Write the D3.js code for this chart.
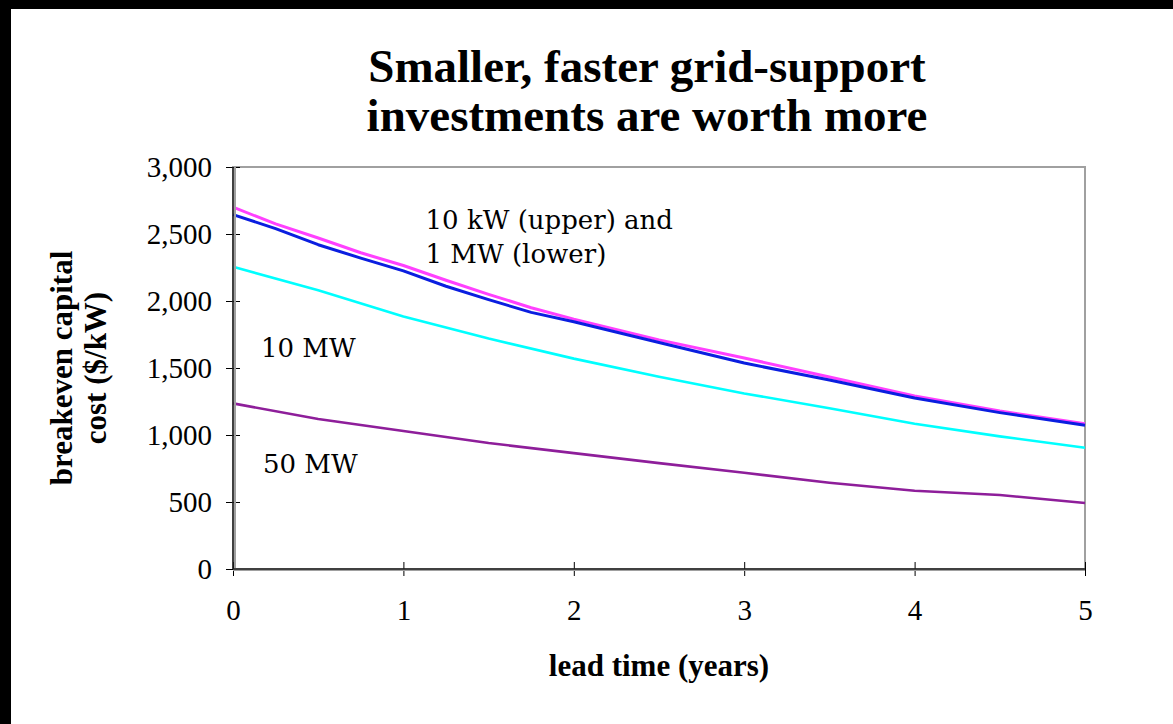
<!DOCTYPE html>
<html>
<head>
<meta charset="utf-8">
<script src="https://cdn.jsdelivr.net/npm/d3@7"></script>
<style>
  body { margin: 0; background: #fff; }
  svg { display: block; }
  text { font-family: "Palatino Linotype", "Book Antiqua", Palatino, "Liberation Serif", serif; fill: #000; }
  .note { font-family: "Palatino Linotype", "Book Antiqua", Palatino, "DejaVu Serif", serif; }
</style>
</head>
<body>
<svg id="chart"></svg>
<script>
// lead time in years, values in $/kW
const leadTime = [0, 0.25, 0.5, 0.75, 1, 1.25, 1.5, 1.75, 2, 2.5, 3, 3.5, 4, 4.5, 5];
const kw10 = [2700, 2575, 2470, 2360, 2265, 2155, 2050, 1950, 1865, 1710, 1575, 1433, 1291, 1179, 1085];
const mw1 = [2645, 2540, 2420, 2320, 2225, 2110, 2010, 1915, 1845, 1690, 1537, 1410, 1276, 1167, 1072];
const leadTimeHalf = [0, 0.5, 1, 1.5, 2, 2.5, 3, 3.5, 4, 4.5, 5];
const mw10 = [2255, 2080, 1885, 1720, 1570, 1435, 1310, 1200, 1084, 990, 905];
const mw50 = [1236, 1120, 1030, 940, 865, 790, 718, 644, 584, 552, 492];
const yTicks = [0, 500, 1000, 1500, 2000, 2500, 3000];
const xTicks = [0, 1, 2, 3, 4, 5];

const W = 1173, H = 724;
const svg = d3.select('#chart').attr('width', W).attr('height', H);

// black frame round the picture (top and left)
svg.append('rect').attr('width', W).attr('height', H).attr('fill', '#000');
svg.append('rect').attr('x', 11).attr('y', 9).attr('width', W - 11).attr('height', H - 9).attr('fill', '#fff');

const x = d3.scaleLinear().domain([0, 5]).range([233, 1085]);
const y = d3.scaleLinear().domain([0, 3000]).range([569, 167]);

// plot frame (grey top and right)
svg.append('rect')
  .attr('x', x(0)).attr('y', y(3000))
  .attr('width', x(5) - x(0)).attr('height', y(0) - y(3000))
  .attr('fill', 'none').attr('stroke', '#a0a0a0').attr('stroke-width', 2);

// lines
const series = [
  { xs: leadTimeHalf, ys: mw50, color: '#8e1e9a', w: 2.6 },
  { xs: leadTimeHalf, ys: mw10, color: '#00ffff', w: 2.6 },
  { xs: leadTime, ys: kw10, color: '#ff40ff', w: 3 },
  { xs: leadTime, ys: mw1, color: '#0a1ee0', w: 3 }
];
const line = d3.line().x(d => x(d[0])).y(d => y(d[1]));
series.forEach(s => {
  svg.append('path')
    .datum(d3.zip(s.xs, s.ys))
    .attr('d', line)
    .attr('fill', 'none')
    .attr('stroke', s.color)
    .attr('stroke-width', s.w)
    .attr('stroke-linejoin', 'round');
});

// axes
const yAxis = svg.append('g').attr('transform', `translate(${x(0)},0)`)
  .call(d3.axisLeft(y).tickValues(yTicks).tickFormat(d3.format(',')).tickSize(7).tickPadding(14));
const xAxis = svg.append('g').attr('transform', `translate(0,${y(0)})`)
  .call(d3.axisBottom(x).tickValues(xTicks).tickFormat(d3.format('d')).tickSize(7));
[yAxis, xAxis].forEach(g => {
  g.select('.domain').remove();
  g.selectAll('text').style('font-size', '29px').attr('fill', '#000');
  g.selectAll('.tick line').attr('stroke', '#000');
});
yAxis.selectAll('text').attr('x', -21);
xAxis.selectAll('text').attr('dy', 0).attr('y', 51);
// ticks cross the axis
yAxis.selectAll('.tick line').attr('x1', 7);
xAxis.selectAll('.tick line').attr('y1', -7);

// axis lines with grey shadow
svg.append('line').attr('x1', x(0) + 2).attr('x2', x(0) + 2).attr('y1', y(3000)).attr('y2', y(0))
  .attr('stroke', '#a0a0a0').attr('stroke-width', 2);
svg.append('line').attr('x1', x(0)).attr('x2', x(5)).attr('y1', y(0) + 1).attr('y2', y(0) + 1)
  .attr('stroke', '#a0a0a0').attr('stroke-width', 2);
svg.append('line').attr('x1', x(0)).attr('x2', x(0)).attr('y1', y(3000)).attr('y2', y(0))
  .attr('stroke', '#202020').attr('stroke-width', 1.5);
svg.append('line').attr('x1', x(0)).attr('x2', x(5)).attr('y1', y(0)).attr('y2', y(0))
  .attr('stroke', '#202020').attr('stroke-width', 1.5);

// title
const title = svg.append('text').attr('text-anchor', 'middle')
  .style('font-size', '47px').style('font-weight', 'bold');
title.append('tspan').attr('x', 647).attr('y', 82).text('Smaller, faster grid-support');
title.append('tspan').attr('x', 647).attr('y', 131).text('investments are worth more');

// axis titles
svg.append('text').attr('x', 659).attr('y', 676).attr('text-anchor', 'middle')
  .style('font-size', '31px').style('font-weight', 'bold').text('lead time (years)');
const yt = svg.append('text').attr('transform', 'translate(0,368) rotate(-90)')
  .attr('text-anchor', 'middle').style('font-size', '31px').style('font-weight', 'bold');
yt.append('tspan').attr('x', 0).attr('y', 72).text('breakeven capital');
yt.append('tspan').attr('x', 0).attr('y', 106).text('cost ($/kW)');

// annotations (positions in data units)
const notes = [
  { t: '10 kW (upper) and', px: 1.13, py: 2537 },
  { t: '1 MW (lower)', px: 1.13, py: 2284 },
  { t: '10 MW', px: 0.164, py: 1582 },
  { t: '50 MW', px: 0.176, py: 716 }
];
svg.selectAll('.note').data(notes).join('text')
  .attr('class', 'note')
  .attr('x', d => x(d.px)).attr('y', d => y(d.py))
  .style('font-size', '26px')
  .text(d => d.t);
</script>
</body>
</html>
